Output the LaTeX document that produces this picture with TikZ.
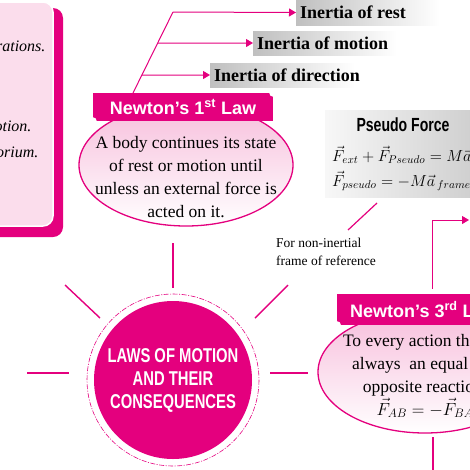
\RequirePackage{fix-cm}
\documentclass[tikz,border=0pt]{standalone}
\usepackage{fontspec}
\setmainfont{Liberation Serif}
\setsansfont{Liberation Sans}
\newfontfamily\condsans[FakeStretch=0.74]{Liberation Sans}
\usepackage{tikz}
\usetikzlibrary{arrows.meta,calc,positioning}
\definecolor{lawpink}{RGB}{228,0,126}
\definecolor{boxpink}{RGB}{251,221,236}
\definecolor{bubblepink}{RGB}{247,190,220}

\begin{document}
\begin{tikzpicture}[x=1pt, y=-1pt,
  ray/.style={lawpink, line width=1.4pt},
  link/.style={lawpink, line width=1pt, -{Triangle[length=7pt,width=8pt]}},
  greybar/.style={left color=gray!50, right color=white},
  inertia/.style={anchor=west, inner xsep=4pt, font=\bfseries\fontsize{18}{20}\selectfont},
  banner/.style={fill=lawpink, text=white, inner sep=0pt, font=\sffamily\bfseries\fontsize{18}{20}\selectfont},
  bubble/.style={top color=bubblepink, bottom color=white, draw=lawpink, line width=1.3pt},
  bodytext/.style={align=center, font=\fontsize{17.5}{23}\selectfont},
  fragment/.style={anchor=base east, font=\itshape\fontsize{16}{20}\selectfont}]

  \useasboundingbox (0,0) rectangle (470,469);
  \clip (0,0) rectangle (470,469);

  % Side box (left, cut off)
  \fill[lawpink, rounded corners=10pt] (-30,8) rectangle (63,237);
  \draw[white, line width=1.5pt, fill=boxpink, rounded corners=10pt] (-30,2) rectangle (53,226);
  \node[fragment] (frag1) at (49,51) {rations.};
  \node[fragment] (frag2) at (35,131) {otion.};
  \node[fragment] (frag3) at (42,157) {orium.};
  \node[fragment] (frag4) at (5,212) {.};

  % Inertia labels
  \path[greybar] (296,0) rectangle (440,25);
  \path[greybar] (253,31) rectangle (397,55);
  \path[greybar] (210,63) rectangle (355,87);
  \node[inertia] (rest) at (296,12.5) {Inertia of rest};
  \node[inertia] (motion) at (253,43) {Inertia of motion};
  \node[inertia] (direction) at (210,75) {Inertia of direction};

  % Fork from the 1st law to the labels
  \coordinate (fork) at (173,12);
  \coordinate (foot) at (133,93);
  \draw[lawpink, line width=1pt] (foot) -- (fork);
  \draw[link] (fork) -- (rest.west);
  \draw[link] ($(foot)!0.617!(fork)$) -- (motion.west);
  \draw[link] ($(foot)!0.222!(fork)$) -- (direction.west);

  % Newton's 1st law
  \path[bubble] (186,165) ellipse (107 and 61);
  \node[banner, minimum width=180pt, minimum height=28pt] (law1) at (183,107) {Newton's 1\textsuperscript{st} Law};
  \fill[white] (law1.south west) circle (4);
  \fill[white] (law1.north east) circle (4);
  \node[bodytext] (law1text) at (186,177) {A body continues its state\\of rest or motion until\\unless an external force is\\acted on it.};

  % Pseudo force
  \node[left color=gray!6, right color=gray!38, minimum width=150pt, minimum height=87pt,
    anchor=north west] (pseudo) at (325,110) {};
  \node[font=\condsans\bfseries\fontsize{19}{20}\selectfont] (pstitle) at (403,125) {Pseudo Force};
  \node[anchor=west, inner sep=0pt, font=\fontsize{16}{20}\selectfont] (pseq1) at (332,155) {$\vec{F}_{ext}+\vec{F}_{Pseudo}=M\vec{a}$};
  \node[anchor=west, inner sep=0pt, font=\fontsize{16}{20}\selectfont] (pseq2) at (332,181) {$\vec{F}_{pseudo}=-M\vec{a}_{\,frame}$};
  \node[anchor=north west, inner sep=0pt, align=left, font=\fontsize{13.5}{18}\selectfont] (note) at (276,238)
    {For non-inertial\\frame of reference};
  \coordinate (psfoot) at (348,230);
  \coordinate (pstop) at (377,203);
  \draw[lawpink, line width=1.2pt] (psfoot) -- (pstop);

  % Newton's 3rd law
  \path[bubble] (425,372) ellipse (107 and 61);
  \node[banner, anchor=west, minimum height=31pt, inner xsep=13pt] (law3) at (337,309.5) {Newton's 3\textsuperscript{rd} Law};
  \fill[white] (law3.south west) circle (4);
  \node[bodytext] (law3text) at (425,376) {To every action there is\\always~ an equal and\\opposite reaction.\\$\vec{F}_{AB}=-\vec{F}_{BA}$};
  \coordinate (corner) at (432,220);
  \draw[link] ($(law3.north -| corner)+(0,-5)$) -- (corner) -- (469,220);
  \coordinate (drop) at (433,437);
  \draw[lawpink, line width=1.2pt] (drop) -- (drop |- 0,472);

  % Central circle
  \node[circle, fill=lawpink, minimum size=158pt, inner sep=0pt, text=white, align=center,
    font=\condsans\bfseries\fontsize{20}{23}\selectfont] (hub) at (173,380) {LAWS OF MOTION\\AND THEIR\\CONSEQUENCES};
  \draw[lawpink, line width=0.6pt, dash pattern=on 5pt off 1.5pt on 1pt off 1.5pt] (hub.center) circle (86);

  % Rays
  \foreach \a/\b in {{173,243}/{173,288}, {65,285}/{100,318}, {288,285}/{255,318}, {27,373}/{69,373}, {270,373}/{308,373}}
    \draw[ray] (\a) -- (\b);

\end{tikzpicture}
\end{document}
